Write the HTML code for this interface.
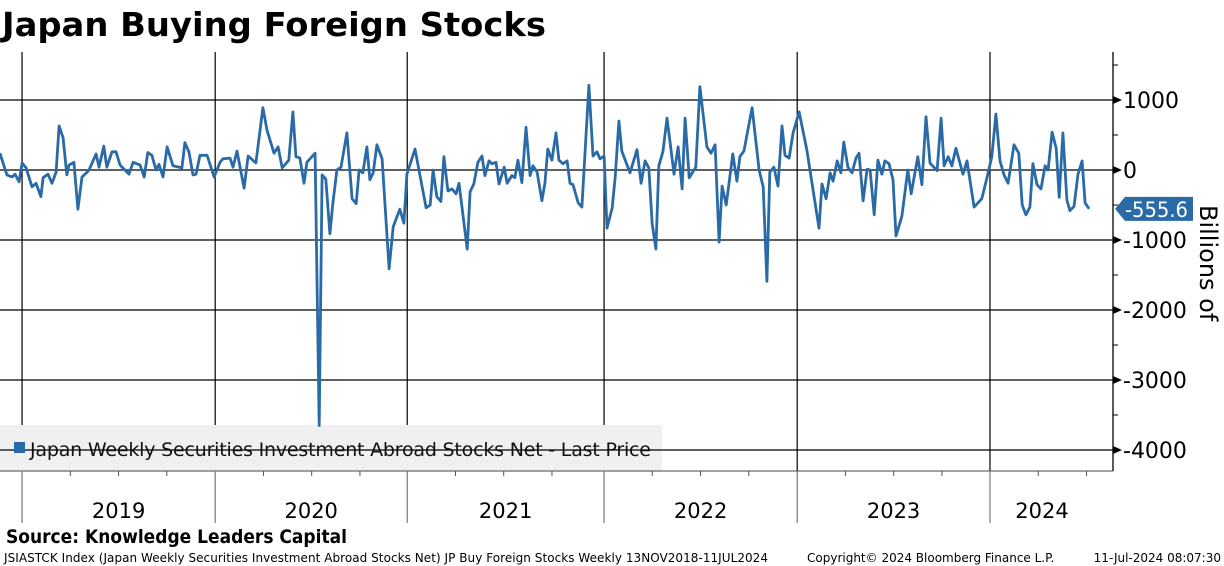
<!DOCTYPE html>
<html><head><meta charset="utf-8"><style>
body{margin:0;background:#fff;width:1224px;height:566px;overflow:hidden;font-family:"Liberation Sans",sans-serif}
svg{display:block}
</style></head><body>
<svg id="c" width="1224" height="566" xmlns="http://www.w3.org/2000/svg">
<text x="2" y="36" font-size="33" font-weight="bold" font-family="DejaVu Sans,sans-serif" textLength="544" lengthAdjust="spacingAndGlyphs">Japan Buying Foreign Stocks</text>
<g id="grid"></g>
<rect x="0" y="425" width="662" height="46" fill="#f0f0f0"/>
<g id="grid2"></g>
<rect x="14" y="442" width="11" height="11" fill="#2a6aa6"/>
<text x="30" y="456" font-size="19" fill="#111" font-family="DejaVu Sans,sans-serif" textLength="621">Japan Weekly Securities Investment Abroad Stocks Net - Last Price</text>
<g id="series"></g>
<g id="axis"></g>
<text transform="translate(1200,205) rotate(90)" font-size="24" font-family="DejaVu Sans,sans-serif">Billions of</text>
<text x="6" y="543" font-size="19" font-weight="bold" font-family="DejaVu Sans,sans-serif" textLength="341" lengthAdjust="spacingAndGlyphs">Source: Knowledge Leaders Capital</text>
<text x="4" y="562" font-size="12" font-family="DejaVu Sans,sans-serif" textLength="764">JSIASTCK Index (Japan Weekly Securities Investment Abroad Stocks Net) JP Buy Foreign Stocks  Weekly 13NOV2018-11JUL2024</text>
<text x="807" y="562" font-size="12" font-family="DejaVu Sans,sans-serif">Copyright© 2024 Bloomberg Finance L.P.</text>
<text x="1221" y="562" font-size="12" text-anchor="end" font-family="DejaVu Sans,sans-serif">11-Jul-2024 08:07:30</text>
</svg>
<script>
const weeks=[0.5,2.4,3.8,4.6,5.7,6.5,7.6,9.2,10.3,11.6,12.2,13.5,14.6,15.7,16.5,17.6,18.6,19.2,20.5,21.6,22.7,24.1,24.6,26.5,27.3,28.6,29.4,30.8,31.9,33.0,35.4,36.5,38.4,39.5,40.5,41.6,42.7,43.5,44.6,45.7,47.3,49.7,50.5,51.6,52.7,53.5,54.6,56.5,58.4,60.0,60.8,62.7,63.5,64.6,66.5,67.6,69.7,71.6,72.7,74.6,75.7,76.8,78.6,79.7,80.5,81.6,82.7,83.5,85.7,86.8,87.6,88.6,89.7,90.5,91.6,92.7,94.3,95.7,96.8,97.6,98.6,99.7,100.5,101.4,102.4,103.8,105.7,106.8,108.6,109.7,110.5,112.7,115.7,116.8,117.6,118.6,119.7,120.5,121.6,122.7,123.8,124.6,126.8,127.6,128.6,129.7,130.8,131.6,132.7,133.5,134.6,135.4,136.8,137.6,138.9,139.7,140.5,141.6,142.7,143.8,144.6,145.7,147.0,147.8,148.6,149.7,150.8,151.6,152.7,153.8,154.6,155.4,156.8,157.8,159.7,160.8,161.9,162.7,163.8,164.6,166.0,166.8,167.8,168.6,170.8,172.7,173.8,174.9,175.9,176.8,177.8,178.6,179.7,180.8,181.9,182.7,183.8,184.9,185.7,186.8,188.6,189.7,191.6,192.7,193.8,194.9,195.7,196.8,198.6,199.7,200.5,201.6,203.8,205.7,206.8,207.8,208.6,209.7,210.8,211.9,212.7,213.8,214.9,216.5,218.6,221.9,222.7,223.8,224.9,225.7,226.8,227.8,228.6,229.7,230.8,231.9,232.7,233.8,234.9,235.7,236.8,237.8,238.9,239.7,240.8,241.9,242.7,244.3,245.9,246.8,248.6,249.7,250.8,251.9,253.8,254.9,255.7,256.8,257.8,258.9,260.8,261.9,263.8,265.9,267.3,268.6,269.7,270.8,271.9,273.0,274.6,275.9,276.8,277.8,278.9,279.7,280.8,281.9,283.0,283.8,284.9,286.0,286.8,287.8,288.9,289.7,290.8,291.9,293.0,293.8,294.9];
const values=[240,-70,-100,-60,-170,100,30,-240,-190,-380,-110,-60,-190,-30,630,460,-70,70,110,-560,-100,-30,0,230,40,340,40,260,260,70,-60,110,70,-100,250,210,0,80,-100,330,60,30,390,260,-70,-60,210,210,-100,110,160,170,40,270,-260,200,100,890,570,240,330,30,140,830,190,170,-190,110,240,-3650,-70,-130,-910,-470,0,40,530,-410,-480,0,-40,330,-140,-40,360,160,-1410,-810,-560,-760,-60,300,-540,-500,0,-380,-450,190,-300,-270,-340,-190,-1130,-310,-200,110,200,-80,130,90,110,-200,40,-190,-80,-110,140,-180,610,-80,60,-30,-440,-190,300,140,530,140,90,130,-190,-210,-470,-530,1210,200,260,160,200,-830,-540,-100,700,270,-40,290,-190,130,30,-770,-1130,60,260,740,290,-60,330,-270,740,-110,40,1190,330,240,360,-1030,-230,-500,230,-160,190,270,890,0,-240,-1590,-30,40,-230,630,210,170,530,830,290,-830,-200,-410,-40,-160,130,-40,400,40,-40,170,240,-440,10,0,-640,140,-60,130,90,-140,-940,-660,0,-340,190,-210,760,100,-10,740,60,190,60,310,-60,130,-530,-410,-110,190,800,130,-70,-190,360,240,-500,-640,-530,90,-210,-270,60,0,540,310,-390,530,-430,-580,-520,-60,130,-470,-555.6];
const yTicks=[1000,0,-1000,-2000,-3000,-4000];
const years=["2019","2020","2021","2022","2023","2024"];
const yearStartWeeks=[6.5,58.7,110.6,163.8,216.0,268.1];
const lastValue=-555.6;

const NS="http://www.w3.org/2000/svg";
const X=w=>w*3.7-2;
const Y=v=>170-v*0.07;
const R=1113, TOP=52, BOT=471;
function mk(tag,attrs,parent){const e=document.createElementNS(NS,tag);for(const k in attrs)e.setAttribute(k,attrs[k]);parent.appendChild(e);return e;}
const grid=document.getElementById('grid'),grid2=document.getElementById('grid2'),axis=document.getElementById('axis'),series=document.getElementById('series');
yTicks.forEach(t=>{
  const g=t===-4000?grid2:grid;
  const l=mk('line',{x1:0,x2:R,y1:Y(t),y2:Y(t),stroke:'#000','stroke-width':1.3},g);
  
  
  const p=mk('path',{d:`M${R} ${Y(t)-4}L${R+9} ${Y(t)}L${R} ${Y(t)+4}Z`,fill:'#000'},axis);
  
  
  const tx=mk('text',{x:R+10,y:Y(t)+8,'font-size':22,'font-family':'DejaVu Sans,sans-serif'},axis);
  tx.textContent=t;
  
  
});
[-500,500,1500,-1500,-2500,-3500].forEach(t=>{mk('line',{x1:R,x2:R+5,y1:Y(t),y2:Y(t),stroke:'#000'},axis);});
const ax=mk('line',{x1:R,x2:R,y1:TOP,y2:BOT,stroke:'#000','stroke-width':1.3},axis);


mk('line',{x1:0,x2:R,y1:BOT,y2:BOT,stroke:'#444','stroke-width':1},axis);
yearStartWeeks.forEach((w,i)=>{
  const x=X(w);
  const l=mk('line',{x1:x,x2:x,y1:TOP,y2:BOT,stroke:'#000','stroke-width':1.2},grid);
  
  
  mk('line',{x1:x,x2:x,y1:BOT,y2:523,stroke:'#777','stroke-width':1.2},axis);
  for(let q=1;q<4;q++){const qx=X(w+q*13.04);if(qx<R)mk('line',{x1:qx,x2:qx,y1:BOT,y2:BOT+5,stroke:'#555'},axis);}
  const cx=i<years.length-1?(x+X(yearStartWeeks[i+1]))/2:(x+1094)/2;
  const t=mk('text',{x:cx,y:518,'text-anchor':'middle','font-size':21,'font-family':'DejaVu Sans,sans-serif'},axis);
  t.textContent=years[i];
  
  
});
const d=weeks.map((w,i)=>(i?'L':'M')+X(w).toFixed(1)+' '+Y(values[i]).toFixed(1)).join('');
const line=mk('path',{d:d,fill:'none',stroke:'#2a6aa6','stroke-width':2.8,'stroke-linejoin':'round'},series);


const ly=Y(lastValue);
const tag=mk('path',{d:`M1115 ${ly}L1125 ${ly-12}H1193V${ly+12}H1125Z`,fill:'#2a6aa6'},axis);


const tt=mk('text',{x:1125,y:ly+8,'font-size':21,fill:'#fff','font-family':'DejaVu Sans,sans-serif',textLength:63,lengthAdjust:'spacingAndGlyphs'},axis);
tt.textContent=lastValue.toFixed(1);


</script>
</body></html>
